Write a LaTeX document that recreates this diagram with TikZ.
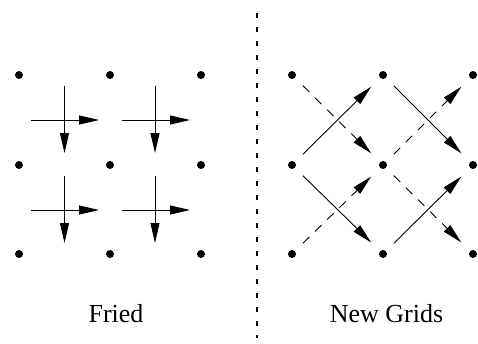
\documentclass[tikz,border=0pt]{standalone}
\usepackage{fontspec}
\setmainfont{Liberation Serif}
\usetikzlibrary{arrows.meta,calc}
\begin{document}
\begin{tikzpicture}[x=1pt,y=-1pt,
  dot/.style={circle,fill=black,inner sep=0pt,minimum size=8pt},
  arr/.style={line width=0.9pt,-{Triangle[length=20pt,width=9pt]}},
  darr/.style={arr,dash pattern=on 9pt off 8pt},
  lbl/.style={anchor=base,font=\fontsize{26}{30}\selectfont}]
\useasboundingbox (0,0) rectangle (478,343);
% left grid dots
\foreach \i/\x in {0/19,1/110,2/201}{
  \foreach \j/\y in {0/75,1/165,2/254}{
    \node[dot] (L\i\j) at (\x,\y) {};
  }
}
% right grid dots
\foreach \i/\x in {0/292,1/383,2/473}{
  \foreach \j/\y in {0/75,1/165,2/254}{
    \node[dot] (R\i\j) at (\x,\y) {};
  }
}
% Fried arrows
\coordinate (h00s) at (31,120);  \coordinate (h00e) at (99,120);
\coordinate (v00s) at (64.5,86); \coordinate (v00e) at (64.5,153);
\coordinate (h10s) at (122,120); \coordinate (h10e) at (190,120);
\coordinate (v10s) at (155,86);  \coordinate (v10e) at (155,153);
\coordinate (h01s) at (31,210);  \coordinate (h01e) at (99,210);
\coordinate (v01s) at (64.5,176);\coordinate (v01e) at (64.5,243);
\coordinate (h11s) at (122,210); \coordinate (h11e) at (190,210);
\coordinate (v11s) at (155,176); \coordinate (v11e) at (155,243);
\foreach \c in {00,10,01,11}{
  \draw[arr] (h\c s) -- (h\c e);
  \draw[arr] (v\c s) -- (v\c e);
}
% New Grids arrows
\draw[arr]  ($(R01)!0.12!(R10)$) -- ($(R01)!0.87!(R10)$);
\draw[darr] ($(R00)!0.12!(R11)$) -- ($(R00)!0.87!(R11)$);
\draw[arr]  ($(R10)!0.12!(R21)$) -- ($(R10)!0.87!(R21)$);
\draw[darr] ($(R11)!0.12!(R20)$) -- ($(R11)!0.87!(R20)$);
\draw[arr]  ($(R01)!0.12!(R12)$) -- ($(R01)!0.87!(R12)$);
\draw[darr] ($(R02)!0.12!(R11)$) -- ($(R02)!0.87!(R11)$);
\draw[arr]  ($(R12)!0.12!(R21)$) -- ($(R12)!0.87!(R21)$);
\draw[darr] ($(R11)!0.12!(R22)$) -- ($(R11)!0.87!(R22)$);
% divider
\coordinate (divtop) at (257,13);
\coordinate (divbot) at (257,338);
\draw[line width=1.2pt,dash pattern=on 5pt off 9pt] (divtop) -- (divbot);
% labels
\node[lbl] (fried) at (116,322) {Fried};
\node[lbl] (newgrids) at (386.5,322) {New Grids};
\end{tikzpicture}
\end{document}
